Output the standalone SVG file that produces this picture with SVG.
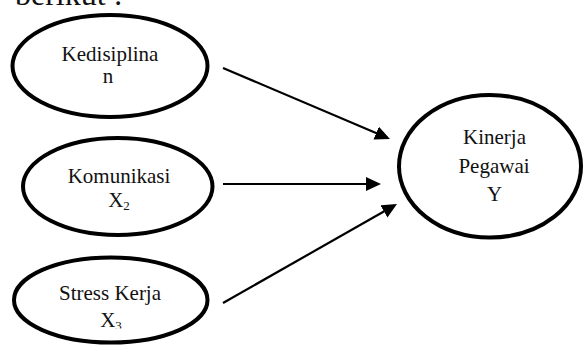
<svg xmlns="http://www.w3.org/2000/svg" width="584" height="346" viewBox="0 0 584 346" font-family="Liberation Serif, Times New Roman, serif">
<style>
.node ellipse { fill: #ffffff; stroke: #000000; stroke-width: 4; }
.lbl { font-size: 21px; fill: #111111; text-anchor: middle; }
.sub { font-size: 13px; }
.conn line { stroke: #000000; stroke-width: 2.2; fill: none; marker-end: url(#arrow); }
</style>
<defs>
<marker id="arrow" markerUnits="userSpaceOnUse" markerWidth="16" markerHeight="15" refX="12" refY="7" orient="auto">
<path d="M0,0 L15,7 L0,14 z" fill="#000000"/>
</marker>
<clipPath id="clipX3"><rect x="0" y="0" width="584" height="328.5"/></clipPath>
</defs>
<rect x="0" y="0" width="584" height="346" fill="#ffffff"/>
<text x="15" y="4.5" font-size="32" fill="#111111">berikut :</text>

<g id="node-kedisiplinan" class="node">
<ellipse cx="110" cy="66" rx="97.5" ry="51"/>
<text class="lbl" x="110" y="61">Kedisiplina</text>
<text class="lbl" x="108" y="83">n</text>
</g>

<g id="node-komunikasi" class="node">
<ellipse cx="117.75" cy="186.5" rx="94.75" ry="48.5"/>
<text class="lbl" x="119" y="183.3">Komunikasi</text>
<text class="lbl" x="119" y="207">X<tspan class="sub" dy="3">2</tspan></text>
</g>

<g id="node-stress" class="node">
<ellipse cx="110.75" cy="300" rx="96.75" ry="42.5"/>
<text class="lbl" x="110" y="300">Stress Kerja</text>
<text class="lbl" x="111" y="327" clip-path="url(#clipX3)">X<tspan class="sub" dy="3">3</tspan></text>
</g>

<g id="node-kinerja" class="node">
<ellipse cx="490" cy="166.25" rx="91" ry="71.25"/>
<text class="lbl" x="494.5" y="144">Kinerja</text>
<text class="lbl" x="494" y="173">Pegawai</text>
<text class="lbl" x="494.5" y="201">Y</text>
</g>

<g id="connectors" class="conn">
<line x1="223" y1="68" x2="387.2" y2="137.8"/>
<line x1="223" y1="184" x2="378" y2="184"/>
<line x1="223" y1="303" x2="394.4" y2="205.5"/>
</g>
</svg>
